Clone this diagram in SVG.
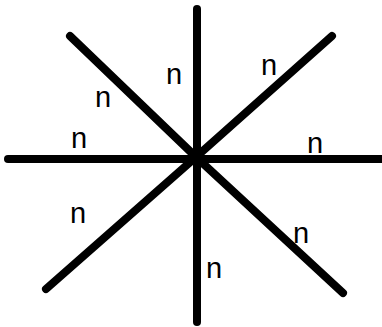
<svg xmlns="http://www.w3.org/2000/svg" width="382" height="327" viewBox="0 0 382 327">
<style>
.ln{stroke:#000;stroke-width:8;stroke-linecap:round;fill:none}
.lb{font-family:"Liberation Sans",Arial,sans-serif;font-size:29px;fill:#000}
</style>
<rect width="382" height="327" fill="#fff"/>
<g id="connectors">
<line class="ln" x1="197" y1="9" x2="197" y2="322"/>
<line class="ln" x1="8" y1="159" x2="390" y2="159"/>
<line class="ln" x1="70" y1="36" x2="196" y2="157"/>
<line class="ln" x1="196" y1="157" x2="343" y2="293"/>
<line class="ln" x1="332" y1="36" x2="196" y2="157"/>
<line class="ln" x1="196" y1="157" x2="46" y2="289"/>
</g>
<g id="label1"><text class="lb" x="166" y="84">n</text></g>
<g id="label2"><text class="lb" x="95" y="107">n</text></g>
<g id="label3"><text class="lb" x="71" y="148">n</text></g>
<g id="label4"><text class="lb" x="261" y="75">n</text></g>
<g id="label5"><text class="lb" x="307" y="153">n</text></g>
<g id="label6"><text class="lb" x="70" y="223">n</text></g>
<g id="label7"><text class="lb" x="293" y="243">n</text></g>
<g id="label8"><text class="lb" x="206" y="278">n</text></g>
</svg>
